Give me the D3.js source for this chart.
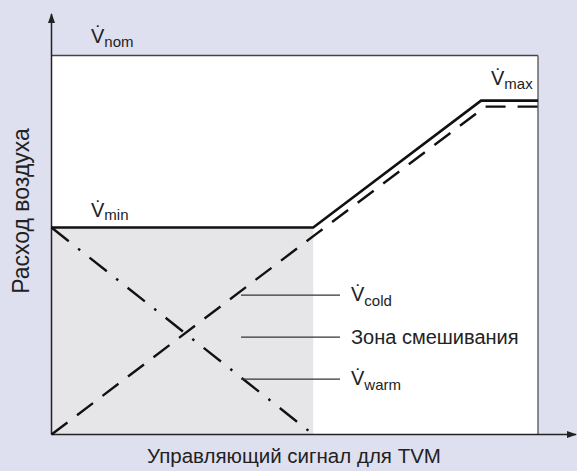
<!DOCTYPE html>
<html>
<head>
<meta charset="utf-8">
<script src="https://cdn.jsdelivr.net/npm/d3@7/dist/d3.min.js"></script>
<style>
  html, body { margin: 0; padding: 0; background: #dfe0ef; }
  svg { display: block; font-family: "Liberation Sans", Arial, sans-serif; }
</style>
</head>
<body>
<svg id="chart" width="577" height="471"></svg>
<script>
// значения в условных единицах (0..100) по обеим осям
var vNom = 100, vMin = 54.6, vMax = 88.1;
var mixEnd = 53.8;                       // конец зоны смешивания по сигналу
var totalFlow = [[0, vMin], [mixEnd, vMin], [88.3, vMax], [100, vMax]];
var coldFlow = [[0, 0], [54.5, 53], [89.2, 86.5], [100, 86.5]];
var warmFlow = [[0, vMin], [mixEnd, 0]];
var sideLabels = [
    {sub: "cold", y: 36.8, dot: true},
    {text: "Зона смешивания", y: 25.7},
    {sub: "warm", y: 14.6, dot: true}
];

var svg = d3.select("#chart");
var plotL = 51.5, plotR = 538, plotT = 55.5, plotB = 434.5;

var x = d3.scaleLinear().domain([0, 100]).range([plotL, plotR]);
var y = d3.scaleLinear().domain([0, vNom]).range([plotB, plotT]);

var defs = svg.append("defs");
defs.append("marker").attr("id", "arr")
    .attr("viewBox", "0 0 10 10").attr("refX", 9).attr("refY", 5)
    .attr("markerWidth", 10).attr("markerHeight", 10)
    .attr("markerUnits", "userSpaceOnUse").attr("orient", "auto")
    .append("path").attr("d", "M0,1.5 L10,5 L0,8.5 Z").attr("fill", "#222");

// область графика
svg.append("rect")
    .attr("x", x(0)).attr("y", y(vNom))
    .attr("width", x(100) - x(0)).attr("height", y(0) - y(vNom))
    .attr("fill", "#fff");

// зона смешивания
svg.append("rect")
    .attr("x", x(0)).attr("y", y(vMin))
    .attr("width", x(mixEnd) - x(0)).attr("height", y(0) - y(vMin))
    .attr("fill", "#e6e6e8");

// рамка
svg.append("line").attr("x1", x(0)).attr("x2", x(100)).attr("y1", y(vNom)).attr("y2", y(vNom))
    .attr("stroke", "#444").attr("stroke-width", 1.5);
svg.append("line").attr("x1", x(100)).attr("x2", x(100)).attr("y1", y(vNom)).attr("y2", y(0))
    .attr("stroke", "#666").attr("stroke-width", 1.5);

// оси со стрелками
svg.append("line").attr("x1", x(0)).attr("x2", x(0)).attr("y1", y(0)).attr("y2", 14)
    .attr("stroke", "#222").attr("stroke-width", 1.5).attr("marker-end", "url(#arr)");
svg.append("line").attr("x1", x(0)).attr("x2", 576).attr("y1", y(0)).attr("y2", y(0))
    .attr("stroke", "#222").attr("stroke-width", 1.5).attr("marker-end", "url(#arr)");

var line = d3.line().x(function (d) { return x(d[0]); }).y(function (d) { return y(d[1]); });

svg.append("path").datum(warmFlow).attr("d", line)
    .attr("fill", "none").attr("stroke", "#111").attr("stroke-width", 2.4)
    .attr("stroke-dasharray", "22,12,2.5,12");
svg.append("path").datum(coldFlow).attr("d", line)
    .attr("fill", "none").attr("stroke", "#111").attr("stroke-width", 2.4)
    .attr("stroke-dasharray", "20,12");
svg.append("path").datum(totalFlow).attr("d", line)
    .attr("fill", "none").attr("stroke", "#111").attr("stroke-width", 2.6);

// подписи уровней V̇
function vLabel(px, py, sub, dy) {
    var t = svg.append("text").attr("x", px).attr("y", py)
        .attr("font-size", 20).attr("fill", "#222");
    t.append("tspan").text("V\u0307");
    t.append("tspan").attr("font-size", 15).attr("dy", dy).text(sub);
    return t;
}
vLabel(91, y(vNom) - 13, "nom", 4);
vLabel(91, y(vMin) - 11, "min", 3);
vLabel(491, y(vMax) - 16, "max", 4);

// выноски справа
var leaders = svg.append("g");
sideLabels.forEach(function (d) {
    leaders.append("line")
        .attr("x1", 241).attr("x2", 340).attr("y1", y(d.y)).attr("y2", y(d.y))
        .attr("stroke", "#333").attr("stroke-width", 1.2);
    if (d.dot) {
        vLabel(351, y(d.y) + 6, d.sub, 5);
    } else {
        leaders.append("text").attr("x", 351).attr("y", y(d.y) + 7)
            .attr("font-size", 20).attr("fill", "#222").text(d.text);
    }
});

// названия осей
svg.append("text").attr("x", 294).attr("y", 463).attr("text-anchor", "middle")
    .attr("font-size", 20.5).attr("fill", "#222").text("Управляющий сигнал для TVM");
svg.append("text").attr("transform", "translate(29,211) rotate(-90)")
    .attr("text-anchor", "middle").attr("font-size", 23).attr("fill", "#222")
    .text("Расход воздуха");
</script>
</body>
</html>
